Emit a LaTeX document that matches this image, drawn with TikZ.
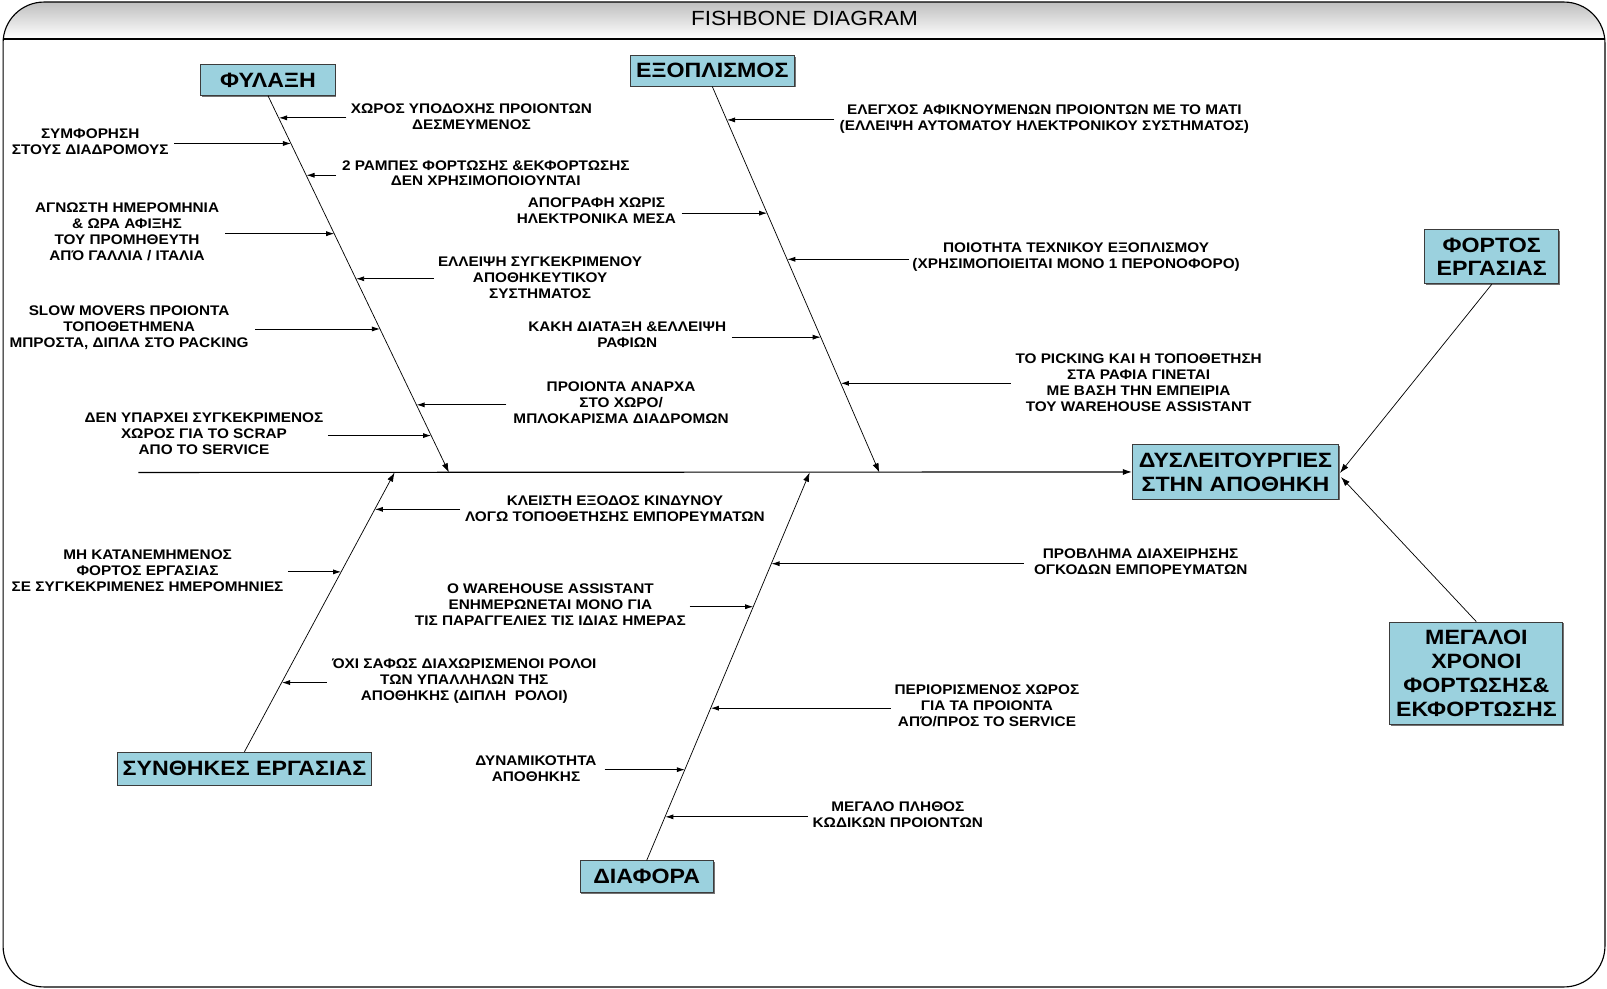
\documentclass[tikz,border=0pt]{standalone}
\usepackage{fontspec}
\setmainfont[FakeStretch=1.1]{Liberation Sans}
\newfontfamily\boxfont[FakeStretch=1.12]{Liberation Sans}
\usetikzlibrary{arrows.meta,shadows,calc}
\definecolor{boxblue}{RGB}{155,209,222}
\definecolor{boxedge}{RGB}{60,60,60}
\tikzset{
  catbox/.style={draw=boxedge, line width=0.9pt, fill=boxblue, align=center,
    font=\boxfont\bfseries\fontsize{20.2}{23.3}\selectfont, inner sep=0pt,
    drop shadow={shadow xshift=1.3pt, shadow yshift=-1.3pt, fill=black!55, opacity=1}},
  causetext/.style={align=center, inner sep=0pt, font=\bfseries\fontsize{13.6}{15.6}\selectfont},
  bone/.style={line width=0.7pt, -{Latex[length=9pt,width=6pt]}},
  spine/.style={line width=1.1pt, -{Latex[length=9pt,width=6pt]}},
  causearrow/.style={line width=0.9pt, -{Latex[length=8pt,width=5pt]}},
}
\begin{document}
\begin{tikzpicture}[x=1pt,y=-1pt]
\useasboundingbox (0,0) rectangle (1568,965);

% frame with shaded title band
\begin{scope}
  \clip[rounded corners=40] (3,2) rectangle (1566,963);
  \fill[top color=black!25, bottom color=white] (3,2) rectangle (1566,38);
\end{scope}
\draw[line width=1.1pt, rounded corners=40] (3,2) rectangle (1566,963);
\draw[line width=1.1pt] (3,38) -- (1566,38);
\node[font=\fontsize{20}{22}\selectfont] (title) at (785,18) {FISHBONE DIAGRAM};

% category boxes
\node[catbox, minimum width=131, minimum height=30] (fyl) at (261.5,78) {ΦΥΛΑΞΗ};
\node[catbox, minimum width=160, minimum height=30] (exo) at (695,69) {ΕΞΟΠΛΙΣΜΟΣ};
\node[catbox, minimum width=131, minimum height=53] (fort) at (1455.5,250.5) {ΦΟΡΤΟΣ\\ΕΡΓΑΣΙΑΣ};
\node[catbox, minimum width=201, minimum height=53] (head) at (1205.5,460.5) {ΔΥΣΛΕΙΤΟΥΡΓΙΕΣ\\ΣΤΗΝ ΑΠΟΘΗΚΗ};
\node[catbox, minimum width=169, minimum height=100] (meg) at (1440.5,657) {ΜΕΓΑΛΟΙ\\ΧΡΟΝΟΙ\\ΦΟΡΤΩΣΗΣ\&\\ΕΚΦΟΡΤΩΣΗΣ};
\node[catbox, minimum width=247, minimum height=32] (syn) at (238.5,750) {ΣΥΝΘΗΚΕΣ ΕΡΓΑΣΙΑΣ};
\node[catbox, minimum width=130, minimum height=31] (dia) at (631,855.5) {ΔΙΑΦΟΡΑ};

% spine and bones
\coordinate (tail) at (135,461);
\coordinate (fylE) at (438,461);
\coordinate (exoE) at (858,461);
\coordinate (synE) at (385,461);
\coordinate (diaE) at (790,461);
\draw[spine] (tail) -- (head.west);
\draw[bone] (fyl.south) -- (fylE);
\draw[bone] (exo.south) -- (exoE);
\draw[bone] (syn.north) -- (synE);
\draw[bone] (dia.north) -- (diaE);
\draw[bone] (fort.south) -- ($(head.east)+(1,1)$);
\draw[bone] (meg.north) -- ($(head.east)+(2,5)$);

% points on the bones where the causes meet them
\path (fyl.south) -- (fylE)
  coordinate[pos=.0598] (f1) coordinate[pos=.1277] (f2) coordinate[pos=.2120] (f3)
  coordinate[pos=.3668] (f4) coordinate[pos=.4864] (f5) coordinate[pos=.6196] (f6)
  coordinate[pos=.8207] (f7) coordinate[pos=.9022] (f8);
\path (exo.south) -- (exoE)
  coordinate[pos=.0875] (e1) coordinate[pos=.3289] (e2) coordinate[pos=.4483] (e3)
  coordinate[pos=.6499] (e4) coordinate[pos=.7692] (e5);
\path (syn.north) -- (synE)
  coordinate[pos=.8681] (s1) coordinate[pos=.6447] (s2) coordinate[pos=.2491] (s3);
\path (dia.north) -- (diaE)
  coordinate[pos=.7652] (d1) coordinate[pos=.6544] (d2) coordinate[pos=.3931] (d3)
  coordinate[pos=.2348] (d4) coordinate[pos=.1135] (d5);

% ---- ΦΥΛΑΞΗ causes
\node[causetext] (tf1) at (460,114) {ΧΩΡΟΣ ΥΠΟΔΟΧΗΣ ΠΡΟΙΟΝΤΩΝ\\ΔΕΣΜΕΥΜΕΝΟΣ};
\node[causetext] (tf2) at (88,138) {ΣΥΜΦΟΡΗΣΗ\\ΣΤΟΥΣ ΔΙΑΔΡΟΜΟΥΣ};
\node[causetext] (tf3) at (474,169) {2 ΡΑΜΠΕΣ ΦΟΡΤΩΣΗΣ \&ΕΚΦΟΡΤΩΣΗΣ\\ΔΕΝ ΧΡΗΣΙΜΟΠΟΙΟΥΝΤΑΙ};
\node[causetext] (tf4) at (124,226) {ΑΓΝΩΣΤΗ ΗΜΕΡΟΜΗΝΙΑ\\\& ΩΡΑ ΑΦΙΞΗΣ\\ΤΟΥ ΠΡΟΜΗΘΕΥΤΗ\\ΑΠΌ ΓΑΛΛΙΑ / ΙΤΑΛΙΑ};
\node[causetext] (tf5) at (527,271) {ΕΛΛΕΙΨΗ ΣΥΓΚΕΚΡΙΜΕΝΟΥ\\ΑΠΟΘΗΚΕΥΤΙΚΟΥ\\ΣΥΣΤΗΜΑΤΟΣ};
\node[causetext] (tf6) at (126,320) {SLOW MOVERS ΠΡΟΙΟΝΤΑ\\ΤΟΠΟΘΕΤΗΜΕΝΑ\\ΜΠΡΟΣΤΑ, ΔΙΠΛΑ ΣΤΟ PACKING};
\node[causetext] (tf7) at (606,393) {ΠΡΟΙΟΝΤΑ ΑΝΑΡΧΑ\\ΣΤΟ ΧΩΡΟ/\\ΜΠΛΟΚΑΡΙΣΜΑ ΔΙΑΔΡΟΜΩΝ};
\node[causetext] (tf8) at (199,423) {ΔΕΝ ΥΠΑΡΧΕΙ ΣΥΓΚΕΚΡΙΜΕΝΟΣ\\ΧΩΡΟΣ ΓΙΑ ΤΟ SCRAP\\ΑΠΟ ΤΟ SERVICE};
\coordinate (af1) at (338,115);
\coordinate (af2) at (170,140);
\coordinate (af3) at (328,171);
\coordinate (af4) at (220,228);
\coordinate (af5) at (423,272);
\coordinate (af6) at (249,321);
\coordinate (af7) at (494,395);
\coordinate (af8) at (320,425);
\foreach \i in {1,...,8} \draw[causearrow] (af\i) -- (af\i -| f\i);

% ---- ΕΞΟΠΛΙΣΜΟΣ causes
\node[causetext] (te1) at (1019,116) {ΕΛΕΓΧΟΣ ΑΦΙΚΝΟΥΜΕΝΩΝ ΠΡΟΙΟΝΤΩΝ ΜΕ ΤΟ ΜΑΤΙ\\(ΕΛΛΕΙΨΗ ΑΥΤΟΜΑΤΟΥ ΗΛΕΚΤΡΟΝΙΚΟΥ ΣΥΣΤΗΜΑΤΟΣ)};
\node[causetext] (te2) at (582,206) {ΑΠΟΓΡΑΦΗ ΧΩΡΙΣ\\ΗΛΕΚΤΡΟΝΙΚΑ ΜΕΣΑ};
\node[causetext] (te3) at (1050,251) {ΠΟΙΟΤΗΤΑ ΤΕΧΝΙΚΟΥ ΕΞΟΠΛΙΣΜΟΥ\\(ΧΡΗΣΙΜΟΠΟΙΕΙΤΑΙ ΜΟΝΟ 1 ΠΕΡΟΝΟΦΟΡΟ)};
\node[causetext] (te4) at (612,327) {ΚΑΚΗ ΔΙΑΤΑΞΗ \&ΕΛΛΕΙΨΗ\\ΡΑΦΙΩΝ};
\node[causetext] (te5) at (1111,373) {ΤΟ PICKING ΚΑΙ Η ΤΟΠΟΘΕΤΗΣΗ\\ΣΤΑ ΡΑΦΙΑ ΓΙΝΕΤΑΙ\\ΜΕ ΒΑΣΗ ΤΗΝ ΕΜΠΕΙΡΙΑ\\ΤΟΥ WAREHOUSE ASSISTANT};
\coordinate (ae1) at (814,117);
\coordinate (ae2) at (665,208);
\coordinate (ae3) at (887,253);
\coordinate (ae4) at (714,329);
\coordinate (ae5) at (986,374);
\foreach \i in {1,...,5} \draw[causearrow] (ae\i) -- (ae\i -| e\i);

% ---- ΣΥΝΘΗΚΕΣ ΕΡΓΑΣΙΑΣ causes
\node[causetext] (ts1) at (600,496) {ΚΛΕΙΣΤΗ ΕΞΟΔΟΣ ΚΙΝΔΥΝΟΥ\\ΛΟΓΩ ΤΟΠΟΘΕΤΗΣΗΣ ΕΜΠΟΡΕΥΜΑΤΩΝ};
\node[causetext] (ts2) at (144,557) {ΜΗ ΚΑΤΑΝΕΜΗΜΕΝΟΣ\\ΦΟΡΤΟΣ ΕΡΓΑΣΙΑΣ\\ΣΕ ΣΥΓΚΕΚΡΙΜΕΝΕΣ ΗΜΕΡΟΜΗΝΙΕΣ};
\node[causetext] (ts3) at (453,665) {ΌΧΙ ΣΑΦΩΣ ΔΙΑΧΩΡΙΣΜΕΝΟΙ ΡΟΛΟΙ\\ΤΩΝ ΥΠΑΛΛΗΛΩΝ ΤΗΣ\\ΑΠΟΘΗΚΗΣ (ΔΙΠΛΗ\ \ ΡΟΛΟΙ)};
\coordinate (as1) at (449,497);
\coordinate (as2) at (281,558);
\coordinate (as3) at (319,666);
\foreach \i in {1,2,3} \draw[causearrow] (as\i) -- (as\i -| s\i);

% ---- ΔΙΑΦΟΡΑ causes
\node[causetext] (td1) at (1113,548) {ΠΡΟΒΛΗΜΑ ΔΙΑΧΕΙΡΗΣΗΣ\\ΟΓΚΟΔΩΝ ΕΜΠΟΡΕΥΜΑΤΩΝ};
\node[causetext] (td2) at (537,590) {Ο WAREHOUSE ASSISTANT\\ΕΝΗΜΕΡΩΝΕΤΑΙ ΜΟΝΟ ΓΙΑ\\ΤΙΣ ΠΑΡΑΓΓΕΛΙΕΣ ΤΙΣ ΙΔΙΑΣ ΗΜΕΡΑΣ};
\node[causetext] (td3) at (963,689) {ΠΕΡΙΟΡΙΣΜΕΝΟΣ ΧΩΡΟΣ\\ΓΙΑ ΤΑ ΠΡΟΙΟΝΤΑ\\ΑΠΌ/ΠΡΟΣ ΤΟ SERVICE};
\node[causetext] (td4) at (523,750) {ΔΥΝΑΜΙΚΟΤΗΤΑ\\ΑΠΟΘΗΚΗΣ};
\node[causetext] (td5) at (876,795) {ΜΕΓΑΛΟ ΠΛΗΘΟΣ\\ΚΩΔΙΚΩΝ ΠΡΟΙΟΝΤΩΝ};
\coordinate (ad1) at (999,550);
\coordinate (ad2) at (673,592);
\coordinate (ad3) at (869,691);
\coordinate (ad4) at (590,751);
\coordinate (ad5) at (788,797);
\foreach \i in {1,...,5} \draw[causearrow] (ad\i) -- (ad\i -| d\i);
\end{tikzpicture}
\end{document}
